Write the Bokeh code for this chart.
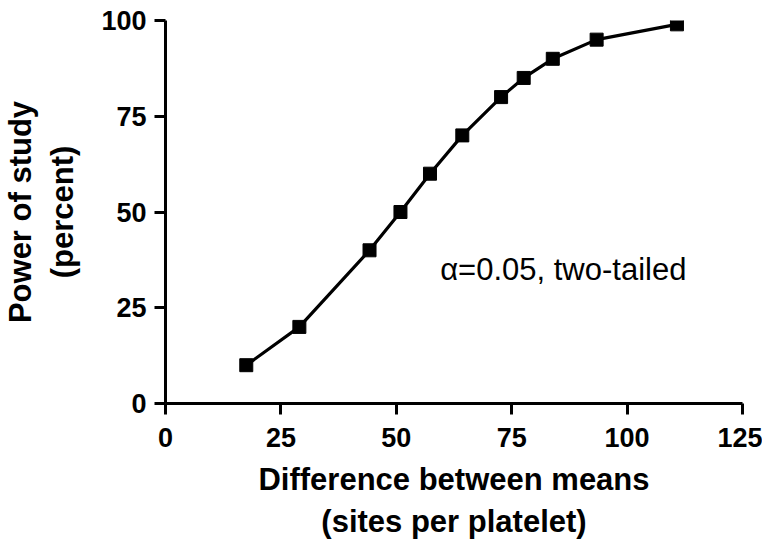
from bokeh.plotting import figure
from bokeh.models import Range1d, FixedTicker, Label
from bokeh.embed import file_html
from bokeh.resources import INLINE

# Data
difference = [17.5, 29.0, 44.2, 50.9, 57.3, 64.3, 72.7, 77.6, 83.9, 93.4, 110.8]
power = [10, 20, 40, 50, 60, 70, 80, 85, 90, 95, 99]
x_ticks = [0, 25, 50, 75, 100, 125]
y_ticks = [0, 25, 50, 75, 100]

FONT = "Liberation Sans"

p = figure(
    output_backend="svg", toolbar_location=None,
    frame_width=577, frame_height=383,
    min_border_left=154, min_border_top=20, min_border_right=20, min_border_bottom=100,
    x_range=Range1d(0, 125), y_range=Range1d(0, 100),
)
p.outline_line_color = None
p.grid.visible = False
p.background_fill_color = "white"
p.border_fill_color = "white"

p.line(difference, power, line_width=3.2, line_color="black")
p.scatter(difference, power, marker="square", size=13, fill_color="black", line_color="black")

for ax, ticks in ((p.xaxis, x_ticks), (p.yaxis, y_ticks)):
    ax.ticker = FixedTicker(ticks=ticks)
    ax.minor_tick_line_color = None
    ax.axis_line_width = 3
    ax.major_tick_line_width = 3
    ax.major_tick_in = 0
    ax.major_tick_out = 11
    ax.axis_line_color = "black"
    ax.major_tick_line_color = "black"
    ax.major_label_text_font = FONT
    ax.major_label_text_font_style = "bold"
    ax.major_label_text_font_size = "27px"
    ax.major_label_text_color = "black"
    ax.axis_label_text_font = FONT
    ax.axis_label_text_font_style = "bold"
    ax.axis_label_text_font_size = "31px"
    ax.axis_label_text_color = "black"
    ax.axis_label_text_line_height = 1.2

p.xaxis.axis_label = "Difference between means\n(sites per platelet)"
p.yaxis.axis_label = "Power of study\n(percent)"
p.xaxis.major_label_standoff = 13
p.yaxis.major_label_standoff = 8
p.xaxis.axis_label_standoff = 12
p.yaxis.axis_label_standoff = 18

p.add_layout(Label(x=59.5, y=35.1, text="\u03b1=0.05, two-tailed",
                   text_font=FONT, text_font_size="31px", text_color="black",
                   text_baseline="middle", text_align="left"))

open("out.html", "w").write(file_html(p, INLINE))
